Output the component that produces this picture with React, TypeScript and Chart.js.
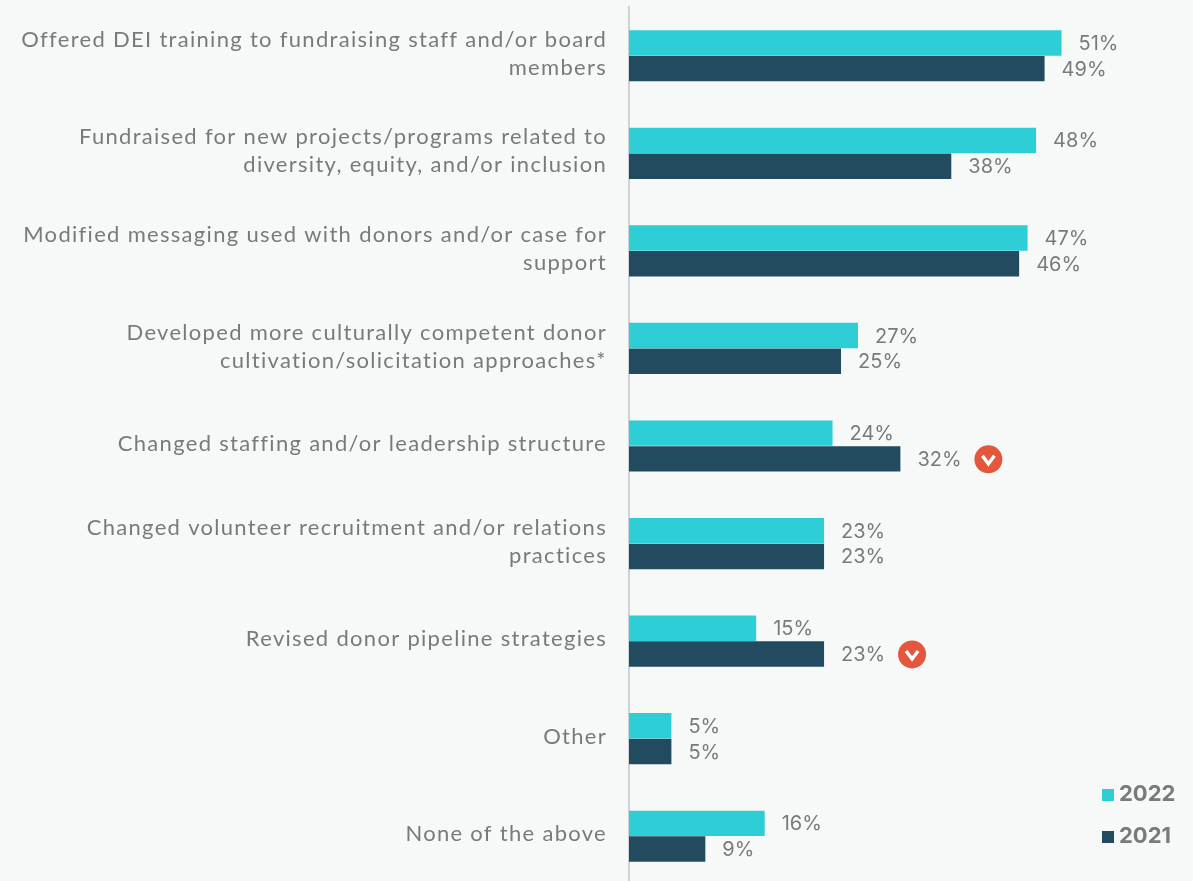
import React, { useEffect, useRef } from "react";
import { Chart, registerables } from "chart.js";

Chart.register(...registerables);

const categories: string[][] = [
  ["Offered DEI training to fundraising staff and/or board", "members"],
  ["Fundraised for new projects/programs related to", "diversity, equity, and/or inclusion"],
  ["Modified messaging used with donors and/or case for", "support"],
  ["Developed more culturally competent donor", "cultivation/solicitation approaches*"],
  ["Changed staffing and/or leadership structure"],
  ["Changed volunteer recruitment and/or relations", "practices"],
  ["Revised donor pipeline strategies"],
  ["Other"],
  ["None of the above"],
];
const values2022 = [51, 48, 47, 27, 24, 23, 15, 5, 16];
const values2021 = [49, 38, 46, 25, 32, 23, 23, 5, 9];
// Index of each 2021 bar that carries a "significant decrease" marker.
const decreaseMarkers = [4, 6];

const TEAL = "#2dced6";
const NAVY = "#234b5f";
const GREY = "#777b7b";
const BADGE = "#e4573d";

const valueLabels = {
  id: "valueLabels",
  afterDatasetsDraw(chart: any) {
    const { ctx } = chart;
    ctx.save();
    ctx.font = "400 20px Inter";
    ctx.fillStyle = GREY;
    ctx.textBaseline = "middle";
    ctx.textAlign = "left";
    chart.data.datasets.forEach((ds: any, di: number) => {
      chart.getDatasetMeta(di).data.forEach((bar: any, i: number) => {
        ctx.fillText(`${ds.data[i]}%`, bar.x + 17, bar.y + 1);
      });
    });
    const bars = chart.getDatasetMeta(1).data;
    decreaseMarkers.forEach((i) => {
      const cx = bars[i].x + 88;
      const cy = bars[i].y;
      ctx.beginPath();
      ctx.arc(cx, cy + 0.5, 14, 0, Math.PI * 2);
      ctx.fillStyle = BADGE;
      ctx.fill();
      ctx.beginPath();
      ctx.moveTo(cx - 6, cy - 3);
      ctx.lineTo(cx, cy + 5);
      ctx.lineTo(cx + 6, cy - 3);
      ctx.strokeStyle = "#ffffff";
      ctx.lineWidth = 3.4;
      ctx.stroke();
    });
    // Year key in the lower right corner.
    ctx.font = "700 22px Inter";
    chart.data.datasets.forEach((ds: any, di: number) => {
      const y = 795 + di * 42;
      ctx.fillStyle = ds.backgroundColor;
      ctx.fillRect(1102, y - 6, 12, 12);
      ctx.fillStyle = GREY;
      ctx.fillText(ds.label, 1119, y - 1);
    });
    ctx.restore();
  },
};

// Letter spacing for the category text only.
const tickSpacing = {
  id: "tickSpacing",
  beforeDraw(chart: any) {
    chart.ctx.letterSpacing = "1.3px";
  },
  beforeDatasetsDraw(chart: any) {
    chart.ctx.letterSpacing = "0px";
  },
};

export default function App() {
  const ref = useRef<HTMLCanvasElement>(null);
  useEffect(() => {
    document.body.style.margin = "0";
    document.body.style.background = "#f7f9f9";
    document.body.style.overflow = "hidden";
    const chart = new Chart(ref.current!, {
      type: "bar",
      data: {
        labels: categories,
        datasets: [
          { label: "2022", data: values2022, backgroundColor: TEAL },
          { label: "2021", data: values2021, backgroundColor: NAVY },
        ],
      },
      plugins: [tickSpacing, valueLabels],
      options: {
        indexAxis: "y",
        animation: false,
        responsive: false,
        layout: { padding: { top: 7, bottom: 0 } },
        datasets: { bar: { categoryPercentage: 0.527, barPercentage: 0.99 } },
        scales: {
          x: { display: false, min: 0, max: 66.5 },
          y: {
            afterFit(scale: any) {
              scale.width = 629;
              scale.paddingTop = 0;
              scale.paddingBottom = 0;
            },
            grid: { display: false, drawTicks: false },
            border: { color: "#d0d3d3", width: 2 },
            ticks: {
              color: GREY,
              padding: 22,
              autoSkip: false,
              labelOffset: -2,
              font: { family: "Lato", size: 22, lineHeight: 1.27 },
            },
          },
        },
        plugins: {
          tooltip: { enabled: false },
          legend: { display: false },
        },
      } as any,
    });
    return () => chart.destroy();
  }, []);
  return (
    <div style={{ width: 1193, height: 881, overflow: "hidden", background: "#f7f9f9" }}>
      <canvas ref={ref} width={1193} height={885} style={{ display: "block" }} />
    </div>
  );
}
